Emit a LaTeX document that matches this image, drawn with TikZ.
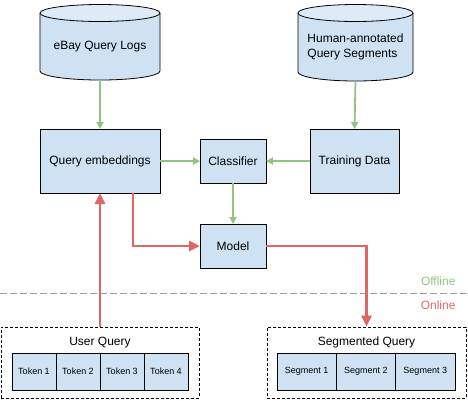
\documentclass[tikz,border=0pt]{standalone}
\usepackage{fontspec}
\setmainfont{Liberation Sans}
\usetikzlibrary{arrows.meta, positioning, backgrounds}

\definecolor{boxfill}{HTML}{CFE2F3}
\definecolor{topfill}{HTML}{DEEBF7}
\definecolor{offgreen}{HTML}{93C47D}
\definecolor{onred}{HTML}{E06666}
\definecolor{splitgray}{HTML}{A0A0A0}

\begin{document}
\begin{tikzpicture}[x=1pt, y=-1pt,
	box/.style = {draw, fill=boxfill, line width=0.8pt, inner sep=0pt, outer sep=0pt,
		font=\fontsize{12}{14}\selectfont},
	dbtext/.style = {inner sep=0pt, outer sep=0pt, align=left,
		font=\fontsize{12}{15}\selectfont},
	dbbody/.style = {draw, fill=boxfill, line width=0.8pt},
	dbtop/.style = {draw, fill=topfill, line width=0.8pt},
	tok/.style = {box, minimum width=44pt, minimum height=37pt,
		font=\fontsize{9}{11}\selectfont},
	seg/.style = {tok, minimum width=59.3pt},
	group/.style = {draw, dash pattern=on 3pt off 2pt, line width=0.8pt,
		inner sep=0pt, minimum height=71pt},
	greenarrow/.style = {draw=offgreen, line width=1.8pt,
		-{Triangle[length=7pt, width=7pt]}},
	redarrow/.style = {draw=onred, line width=2.8pt,
		-{Triangle[length=11pt, width=10pt]}}
]
\useasboundingbox (0,0) rectangle (468,400);

% databases
\node[dbtext] (logs) [minimum width=120pt, minimum height=67pt] at (100,46.5) {eBay Query Logs};
\node[dbtext] (human) [minimum width=115pt, minimum height=68pt] at (355.5,47)
	{Human-annotated\\Query Segments};
\begin{scope}[on background layer]
\draw[dbbody] (logs.north west) -- ([yshift=9pt]logs.south west)
	arc[start angle=180, end angle=360, x radius=60pt, y radius=9pt] -- (logs.north east);
\draw[dbtop] (logs.north) ellipse[x radius=60pt, y radius=8.5pt];
\draw[dbbody] (human.north west) -- ([yshift=9pt]human.south west)
	arc[start angle=180, end angle=360, x radius=57.5pt, y radius=9pt] -- (human.north east);
\draw[dbtop] (human.north) ellipse[x radius=57.5pt, y radius=8.5pt];
\end{scope}

% offline part
\node[box, minimum width=120pt, minimum height=64pt] (embed) at (100,161) {Query embeddings};
\node[box, minimum width=66pt, minimum height=44pt] (classifier) at (233,161) {Classifier};
\node[box, minimum width=89pt, minimum height=64pt] (train) at (354.5,161) {Training Data};
\node[box, minimum width=66pt, minimum height=44pt] (model) at (233,246) {Model};

% online part
\node[group, minimum width=198pt] (user) at (100,362.5) {};
\node[font=\fontsize{12}{14}\selectfont] (userlabel) at (100,342.5) {User Query};
\node[tok, anchor=west] (tok1) at (12,371.5) {Token 1};
\node[tok, right=0pt of tok1] (tok2) {Token 2};
\node[tok, right=0pt of tok2] (tok3) {Token 3};
\node[tok, right=0pt of tok3] (tok4) {Token 4};

\node[group, minimum width=199pt] (segq) at (366.5,362.5) {};
\node[font=\fontsize{12}{14}\selectfont] (seglabel) at (366.5,342.5) {Segmented Query};
\node[seg, anchor=west] (seg1) at (277,371.5) {Segment 1};
\node[seg, right=0pt of seg1] (seg2) {Segment 2};
\node[seg, right=0pt of seg2] (seg3) {Segment 3};

% split
\coordinate (splitl) at (0,293);
\coordinate (splitr) at (468,293);
\draw[splitgray, line width=0.9pt, dash pattern=on 7pt off 3pt] (splitl) -- (splitr);
\node[offgreen, anchor=east, font=\fontsize{12}{14}\selectfont] (offline) at (459,281) {Offline};
\node[onred, anchor=east, font=\fontsize{12}{14}\selectfont] (online) at (459,305) {Online};

% arrows
\draw[greenarrow] (logs.south) -- (embed.north);
\draw[greenarrow] (human.south) -- (train.north);
\draw[greenarrow] (embed.east) -- (classifier.west);
\draw[greenarrow] (train.west) -- (classifier.east);
\draw[greenarrow] (classifier.south) -- (model.north);

\draw[redarrow] (user.north) -- (embed.south);
\draw[redarrow] ([xshift=33pt]embed.south) |- (model.west);
\draw[redarrow] (model.east) -| (segq.north);
\end{tikzpicture}
\end{document}
